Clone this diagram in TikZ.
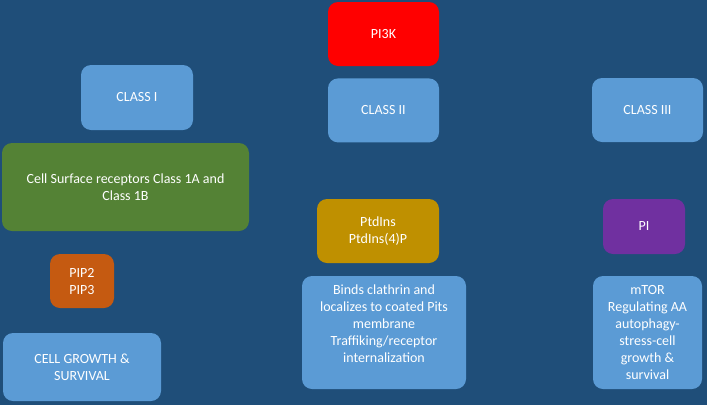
\documentclass[tikz,border=0pt]{standalone}
\usepackage{fontspec}
\setmainfont{Carlito}
\usepackage{xcolor}
\usetikzlibrary{positioning}
\definecolor{deepblue}{HTML}{1F4E79}
\definecolor{skyblue}{HTML}{5B9BD5}
\definecolor{pired}{HTML}{FF0000}
\definecolor{leafgreen}{HTML}{548235}
\definecolor{ochre}{HTML}{BF9000}
\definecolor{violet}{HTML}{7030A0}
\definecolor{rust}{HTML}{C55A11}

\begin{document}
\begin{tikzpicture}[
    x=1pt, y=-1pt,
    font=\fontsize{14}{17}\selectfont,
    card/.style={fill=skyblue, rounded corners=10pt, align=center,
                 text=white, inner sep=3pt},
    classbox/.style={card, minimum width=111pt, minimum height=64pt},
    redbox/.style={card, fill=pired},
    greenbox/.style={card, fill=leafgreen},
    goldbox/.style={card, fill=ochre},
    purplebox/.style={card, fill=violet},
    orangebox/.style={card, fill=rust}
]
  % Background
  \fill[deepblue] (0,0) rectangle (707,405);

  % Top: PI3K and the three classes
  \node[redbox, minimum width=111pt, minimum height=64pt] (pi3k) at (383.5,34) {PI3K};
  \node[classbox, below=12pt of pi3k] (classii) {CLASS II};
  \node[classbox, minimum width=112pt, minimum height=65pt] (classi) at (137,97.5) {CLASS I};
  \node[classbox] (classiii) at (647.5,110) {CLASS III};

  % Column 1: Class I
  \node[greenbox, minimum width=247pt, minimum height=88pt] (receptors) at (125.5,187)
    {Cell Surface receptors Class 1A and\\Class 1B};
  \node[orangebox, minimum width=64pt, minimum height=54pt] (pip) at (82,281) {PIP2\\PIP3};
  \node[card, minimum width=158pt, minimum height=68pt] (growth) at (82,367)
    {CELL GROWTH \&\\SURVIVAL};

  % Column 2: Class II
  \node[goldbox, minimum width=122pt, minimum height=64pt] (ptdins) at (378,231)
    {PtdIns\\PtdIns(4)P};
  \node[card, minimum width=164pt, minimum height=113pt] (clathrin) at (384,332.5)
    {Binds clathrin and\\localizes to coated Pits\\membrane\\Traffiking/receptor\\internalization\\~};

  % Column 3: Class III
  \node[purplebox, minimum width=82pt, minimum height=55pt] (pi) at (644,226.5) {PI};
  \node[card, minimum width=109pt, minimum height=113pt] (mtor) at (647.5,332.5)
    {mTOR\\Regulating AA\\autophagy-\\stress-cell\\growth \&\\survival};
\end{tikzpicture}
\end{document}
